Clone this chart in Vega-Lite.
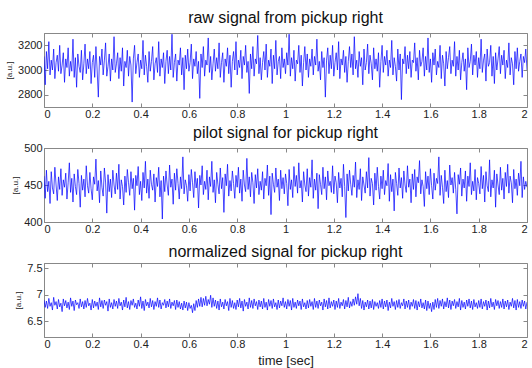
{
"$schema":"https://vega.github.io/schema/vega-lite/v6.json",
"background":"white",
"padding":{"left":5,"top":9,"right":1,"bottom":2},
"bounds":"flush",
"spacing":41,
"config":{"font":"Liberation Sans","view":{"stroke":"#888","strokeWidth":1},
"axis":{"grid":false,"domainColor":"#888","tickColor":"#888","tickSize":-4,"labelPadding":6,"labelFontSize":11,"labelColor":"#222","titleFontWeight":"normal","titleColor":"#222","labelFont":"Liberation Sans","titleFont":"Liberation Sans"},
"axisX":{"labelPadding":5},
"title":{"fontSize":16,"fontWeight":"normal","color":"#111","font":"Liberation Sans"}},
"datasets":{"d":[
{"t":0,"r":3110,"p":462,"n":6.90},{"t":0.005,"r":2880,"p":432,"n":6.76},{"t":0.01,"r":3150,"p":470,"n":6.88},{"t":0.015,"r":3010,"p":441,"n":6.74},{"t":0.02,"r":3230,"p":455,"n":6.93},{"t":0.025,"r":2960,"p":425,"n":6.78},{"t":0.03,"r":3080,"p":468,"n":6.85},{"t":0.035,"r":3000,"p":446,"n":6.71},{"t":0.04,"r":3170,"p":438,"n":6.95},{"t":0.045,"r":2930,"p":474,"n":6.80},{"t":0.05,"r":3060,"p":450,"n":6.87},{"t":0.055,"r":3120,"p":429,"n":6.73},{"t":0.06,"r":2990,"p":461,"n":6.91},{"t":0.065,"r":3200,"p":444,"n":6.77},{"t":0.07,"r":2970,"p":472,"n":6.84},{"t":0.075,"r":3040,"p":436,"n":6.68},{"t":0.08,"r":3140,"p":457,"n":6.92},{"t":0.085,"r":2900,"p":447,"n":6.79},{"t":0.09,"r":3090,"p":466,"n":6.89},{"t":0.095,"r":3020,"p":431,"n":6.75},
{"t":0.1,"r":3180,"p":453,"n":6.86},{"t":0.105,"r":2950,"p":480,"n":6.72},{"t":0.11,"r":3070,"p":440,"n":6.94},{"t":0.115,"r":2990,"p":459,"n":6.78},{"t":0.12,"r":3250,"p":427,"n":6.88},{"t":0.125,"r":2940,"p":465,"n":6.70},{"t":0.13,"r":3100,"p":448,"n":6.90},{"t":0.135,"r":2860,"p":437,"n":6.81},{"t":0.14,"r":3130,"p":471,"n":6.85},{"t":0.145,"r":3030,"p":452,"n":6.74},{"t":0.15,"r":2980,"p":420,"n":6.92},{"t":0.155,"r":3160,"p":463,"n":6.77},{"t":0.16,"r":2920,"p":443,"n":6.87},{"t":0.165,"r":3050,"p":458,"n":6.73},{"t":0.17,"r":3210,"p":434,"n":6.89},{"t":0.175,"r":2970,"p":476,"n":6.76},{"t":0.18,"r":3090,"p":449,"n":6.93},{"t":0.185,"r":3010,"p":439,"n":6.79},{"t":0.19,"r":3150,"p":467,"n":6.84},{"t":0.195,"r":2890,"p":445,"n":6.71},
{"t":0.2,"r":3060,"p":430,"n":6.91},{"t":0.205,"r":3120,"p":461,"n":6.75},{"t":0.21,"r":2940,"p":451,"n":6.88},{"t":0.215,"r":3190,"p":485,"n":6.78},{"t":0.22,"r":3000,"p":442,"n":6.86},{"t":0.225,"r":2780,"p":456,"n":6.72},{"t":0.23,"r":3110,"p":426,"n":6.94},{"t":0.235,"r":3040,"p":469,"n":6.77},{"t":0.24,"r":3170,"p":447,"n":6.89},{"t":0.245,"r":2960,"p":435,"n":6.74},{"t":0.25,"r":3080,"p":473,"n":6.90},{"t":0.255,"r":3220,"p":454,"n":6.80},{"t":0.26,"r":2950,"p":412,"n":6.87},{"t":0.265,"r":3030,"p":464,"n":6.69},{"t":0.27,"r":3130,"p":441,"n":6.92},{"t":0.275,"r":2910,"p":458,"n":6.76},{"t":0.28,"r":3090,"p":433,"n":6.85},{"t":0.285,"r":3000,"p":470,"n":6.73},{"t":0.29,"r":3270,"p":450,"n":6.91},{"t":0.295,"r":2980,"p":438,"n":6.78},
{"t":0.3,"r":3050,"p":466,"n":6.88},{"t":0.305,"r":3140,"p":444,"n":6.74},{"t":0.31,"r":2930,"p":478,"n":6.93},{"t":0.315,"r":3100,"p":431,"n":6.79},{"t":0.32,"r":2990,"p":457,"n":6.86},{"t":0.325,"r":3180,"p":448,"n":6.71},{"t":0.33,"r":2870,"p":423,"n":6.90},{"t":0.335,"r":3070,"p":462,"n":6.77},{"t":0.34,"r":3020,"p":440,"n":6.95},{"t":0.345,"r":3160,"p":471,"n":6.75},{"t":0.35,"r":2950,"p":453,"n":6.87},{"t":0.355,"r":3110,"p":436,"n":6.72},{"t":0.36,"r":3040,"p":468,"n":6.89},{"t":0.365,"r":2740,"p":445,"n":6.80},{"t":0.37,"r":3090,"p":459,"n":6.92},{"t":0.375,"r":3200,"p":416,"n":6.76},{"t":0.38,"r":2970,"p":463,"n":6.84},{"t":0.385,"r":3060,"p":449,"n":6.73},{"t":0.39,"r":3130,"p":475,"n":6.90},{"t":0.395,"r":2940,"p":437,"n":6.78},
{"t":0.4,"r":3080,"p":455,"n":6.96},{"t":0.405,"r":3010,"p":429,"n":6.74},{"t":0.41,"r":3240,"p":467,"n":6.88},{"t":0.415,"r":2960,"p":446,"n":6.70},{"t":0.42,"r":3120,"p":482,"n":6.91},{"t":0.425,"r":3030,"p":439,"n":6.79},{"t":0.43,"r":2900,"p":458,"n":6.86},{"t":0.435,"r":3150,"p":432,"n":6.75},{"t":0.44,"r":2990,"p":470,"n":6.93},{"t":0.445,"r":3070,"p":451,"n":6.77},{"t":0.45,"r":3190,"p":443,"n":6.89},{"t":0.455,"r":2920,"p":465,"n":6.72},{"t":0.46,"r":3050,"p":427,"n":6.87},{"t":0.465,"r":3100,"p":460,"n":6.78},{"t":0.47,"r":2980,"p":448,"n":6.94},{"t":0.475,"r":3230,"p":474,"n":6.76},{"t":0.48,"r":2950,"p":434,"n":6.90},{"t":0.485,"r":3090,"p":456,"n":6.73},{"t":0.49,"r":3020,"p":404,"n":6.85},{"t":0.495,"r":3140,"p":462,"n":6.80},
{"t":0.5,"r":2890,"p":441,"n":6.91},{"t":0.505,"r":3070,"p":469,"n":6.75},{"t":0.51,"r":3160,"p":450,"n":6.88},{"t":0.515,"r":2970,"p":436,"n":6.77},{"t":0.52,"r":3110,"p":477,"n":6.92},{"t":0.525,"r":3000,"p":447,"n":6.74},{"t":0.53,"r":3290,"p":458,"n":6.86},{"t":0.535,"r":2940,"p":424,"n":6.79},{"t":0.54,"r":3060,"p":466,"n":6.89},{"t":0.545,"r":3130,"p":443,"n":6.72},{"t":0.55,"r":2910,"p":472,"n":6.90},{"t":0.555,"r":3080,"p":452,"n":6.76},{"t":0.56,"r":3040,"p":431,"n":6.87},{"t":0.565,"r":3180,"p":461,"n":6.73},{"t":0.57,"r":2960,"p":445,"n":6.84},{"t":0.575,"r":3100,"p":488,"n":6.71},{"t":0.58,"r":2840,"p":438,"n":6.88},{"t":0.585,"r":3120,"p":457,"n":6.75},{"t":0.59,"r":3010,"p":449,"n":6.86},{"t":0.595,"r":3170,"p":428,"n":6.70},
{"t":0.6,"r":2990,"p":464,"n":6.85},{"t":0.605,"r":3060,"p":442,"n":6.74},{"t":0.61,"r":3210,"p":471,"n":6.80},{"t":0.615,"r":2930,"p":453,"n":6.66},{"t":0.62,"r":3090,"p":433,"n":6.83},{"t":0.625,"r":3030,"p":468,"n":6.70},{"t":0.63,"r":3150,"p":446,"n":6.89},{"t":0.635,"r":2970,"p":459,"n":6.76},{"t":0.64,"r":3070,"p":419,"n":6.92},{"t":0.645,"r":2770,"p":463,"n":6.78},{"t":0.65,"r":3130,"p":450,"n":6.95},{"t":0.655,"r":3020,"p":476,"n":6.77},{"t":0.66,"r":3190,"p":437,"n":6.93},{"t":0.665,"r":2950,"p":455,"n":6.80},{"t":0.67,"r":3080,"p":444,"n":6.97},{"t":0.675,"r":3040,"p":470,"n":6.79},{"t":0.68,"r":3260,"p":430,"n":6.91},{"t":0.685,"r":2980,"p":461,"n":6.82},{"t":0.69,"r":3110,"p":448,"n":6.99},{"t":0.695,"r":2920,"p":482,"n":6.76},
{"t":0.7,"r":3050,"p":440,"n":6.94},{"t":0.705,"r":3170,"p":457,"n":6.78},{"t":0.71,"r":2990,"p":426,"n":6.90},{"t":0.715,"r":3100,"p":467,"n":6.74},{"t":0.72,"r":3010,"p":451,"n":6.88},{"t":0.725,"r":3220,"p":438,"n":6.71},{"t":0.73,"r":2940,"p":473,"n":6.92},{"t":0.735,"r":3060,"p":445,"n":6.77},{"t":0.74,"r":3140,"p":460,"n":6.86},{"t":0.745,"r":2900,"p":413,"n":6.73},{"t":0.75,"r":3090,"p":465,"n":6.91},{"t":0.755,"r":3030,"p":449,"n":6.79},{"t":0.76,"r":3180,"p":478,"n":6.87},{"t":0.765,"r":2970,"p":435,"n":6.70},{"t":0.77,"r":3120,"p":456,"n":6.93},{"t":0.775,"r":2860,"p":442,"n":6.76},{"t":0.78,"r":3070,"p":469,"n":6.89},{"t":0.785,"r":3150,"p":452,"n":6.74},{"t":0.79,"r":3000,"p":432,"n":6.85},{"t":0.795,"r":3230,"p":463,"n":6.72},
{"t":0.8,"r":2960,"p":447,"n":6.90},{"t":0.805,"r":3080,"p":474,"n":6.77},{"t":0.81,"r":3020,"p":439,"n":6.93},{"t":0.815,"r":3160,"p":458,"n":6.75},{"t":0.82,"r":2930,"p":428,"n":6.88},{"t":0.825,"r":3110,"p":470,"n":6.69},{"t":0.83,"r":3040,"p":450,"n":6.91},{"t":0.835,"r":3200,"p":441,"n":6.78},{"t":0.84,"r":2980,"p":486,"n":6.86},{"t":0.845,"r":3070,"p":444,"n":6.73},{"t":0.85,"r":2810,"p":461,"n":6.94},{"t":0.855,"r":3130,"p":434,"n":6.76},{"t":0.86,"r":3010,"p":467,"n":6.89},{"t":0.865,"r":3190,"p":453,"n":6.74},{"t":0.87,"r":2950,"p":425,"n":6.92},{"t":0.875,"r":3090,"p":464,"n":6.79},{"t":0.88,"r":3050,"p":446,"n":6.87},{"t":0.885,"r":3280,"p":472,"n":6.72},{"t":0.89,"r":2970,"p":437,"n":6.90},{"t":0.895,"r":3100,"p":455,"n":6.77},
{"t":0.9,"r":2920,"p":443,"n":6.88},{"t":0.905,"r":3060,"p":468,"n":6.73},{"t":0.91,"r":3150,"p":431,"n":6.93},{"t":0.915,"r":3000,"p":459,"n":6.76},{"t":0.92,"r":3210,"p":449,"n":6.86},{"t":0.925,"r":2940,"p":477,"n":6.71},{"t":0.93,"r":3080,"p":436,"n":6.91},{"t":0.935,"r":3030,"p":462,"n":6.78},{"t":0.94,"r":3170,"p":410,"n":6.89},{"t":0.945,"r":2890,"p":466,"n":6.74},{"t":0.95,"r":3120,"p":451,"n":6.92},{"t":0.955,"r":3010,"p":440,"n":6.77},{"t":0.96,"r":3240,"p":473,"n":6.85},{"t":0.965,"r":2960,"p":447,"n":6.72},{"t":0.97,"r":3070,"p":458,"n":6.90},{"t":0.975,"r":3110,"p":429,"n":6.75},{"t":0.98,"r":2930,"p":470,"n":6.88},{"t":0.985,"r":3180,"p":445,"n":6.79},{"t":0.99,"r":3020,"p":460,"n":6.94},{"t":0.995,"r":3090,"p":438,"n":6.76},
{"t":1,"r":2970,"p":465,"n":6.87},{"t":1.005,"r":3140,"p":452,"n":6.73},{"t":1.01,"r":3040,"p":422,"n":6.91},{"t":1.015,"r":3290,"p":471,"n":6.78},{"t":1.02,"r":2950,"p":444,"n":6.89},{"t":1.025,"r":3100,"p":457,"n":6.71},{"t":1.03,"r":3010,"p":433,"n":6.93},{"t":1.035,"r":3160,"p":475,"n":6.76},{"t":1.04,"r":2910,"p":448,"n":6.86},{"t":1.045,"r":3080,"p":463,"n":6.74},{"t":1.05,"r":3050,"p":439,"n":6.90},{"t":1.055,"r":3200,"p":480,"n":6.79},{"t":1.06,"r":2980,"p":446,"n":6.88},{"t":1.065,"r":3120,"p":456,"n":6.72},{"t":1.07,"r":2870,"p":427,"n":6.92},{"t":1.075,"r":3060,"p":468,"n":6.77},{"t":1.08,"r":3190,"p":450,"n":6.85},{"t":1.085,"r":3000,"p":441,"n":6.73},{"t":1.09,"r":3130,"p":472,"n":6.89},{"t":1.095,"r":2940,"p":435,"n":6.75},
{"t":1.1,"r":3090,"p":460,"n":6.91},{"t":1.105,"r":3030,"p":447,"n":6.78},{"t":1.11,"r":3170,"p":484,"n":6.87},{"t":1.115,"r":2960,"p":432,"n":6.72},{"t":1.12,"r":3110,"p":458,"n":6.93},{"t":1.125,"r":3040,"p":443,"n":6.76},{"t":1.13,"r":3250,"p":466,"n":6.88},{"t":1.135,"r":2990,"p":418,"n":6.74},{"t":1.14,"r":3070,"p":464,"n":6.90},{"t":1.145,"r":2920,"p":451,"n":6.79},{"t":1.15,"r":3150,"p":437,"n":6.86},{"t":1.155,"r":3020,"p":474,"n":6.71},{"t":1.16,"r":3100,"p":445,"n":6.92},{"t":1.165,"r":2780,"p":461,"n":6.77},{"t":1.17,"r":3080,"p":430,"n":6.89},{"t":1.175,"r":3180,"p":469,"n":6.73},{"t":1.18,"r":2970,"p":449,"n":6.94},{"t":1.185,"r":3120,"p":455,"n":6.75},{"t":1.19,"r":3010,"p":440,"n":6.87},{"t":1.195,"r":3200,"p":476,"n":6.78},
{"t":1.2,"r":2950,"p":438,"n":6.90},{"t":1.205,"r":3060,"p":462,"n":6.72},{"t":1.21,"r":3140,"p":453,"n":6.88},{"t":1.215,"r":3000,"p":426,"n":6.76},{"t":1.22,"r":3230,"p":467,"n":6.93},{"t":1.225,"r":2930,"p":446,"n":6.74},{"t":1.23,"r":3090,"p":459,"n":6.86},{"t":1.235,"r":3040,"p":434,"n":6.79},{"t":1.24,"r":3160,"p":478,"n":6.91},{"t":1.245,"r":2980,"p":448,"n":6.73},{"t":1.25,"r":3110,"p":406,"n":6.89},{"t":1.255,"r":2900,"p":465,"n":6.77},{"t":1.26,"r":3070,"p":442,"n":6.95},{"t":1.265,"r":3190,"p":470,"n":6.75},{"t":1.27,"r":3020,"p":451,"n":6.87},{"t":1.275,"r":3130,"p":436,"n":6.78},{"t":1.28,"r":2960,"p":463,"n":6.92},{"t":1.285,"r":3270,"p":447,"n":6.80},{"t":1.29,"r":3010,"p":481,"n":6.96},{"t":1.295,"r":3080,"p":433,"n":6.82},
{"t":1.3,"r":2940,"p":457,"n":7.02},{"t":1.305,"r":3150,"p":444,"n":6.79},{"t":1.31,"r":3030,"p":472,"n":6.93},{"t":1.315,"r":3100,"p":429,"n":6.74},{"t":1.32,"r":2880,"p":461,"n":6.89},{"t":1.325,"r":3170,"p":450,"n":6.71},{"t":1.33,"r":3000,"p":439,"n":6.86},{"t":1.335,"r":3060,"p":468,"n":6.77},{"t":1.34,"r":3210,"p":446,"n":6.90},{"t":1.345,"r":2970,"p":487,"n":6.73},{"t":1.35,"r":3120,"p":435,"n":6.88},{"t":1.355,"r":3050,"p":459,"n":6.75},{"t":1.36,"r":2920,"p":452,"n":6.91},{"t":1.365,"r":3180,"p":423,"n":6.72},{"t":1.37,"r":3010,"p":466,"n":6.87},{"t":1.375,"r":3090,"p":443,"n":6.78},{"t":1.38,"r":2990,"p":474,"n":6.85},{"t":1.385,"r":3140,"p":448,"n":6.74},{"t":1.39,"r":2860,"p":431,"n":6.89},{"t":1.395,"r":3070,"p":462,"n":6.76},
{"t":1.4,"r":3200,"p":445,"n":6.92},{"t":1.405,"r":2980,"p":470,"n":6.73},{"t":1.41,"r":3110,"p":437,"n":6.88},{"t":1.415,"r":3040,"p":456,"n":6.77},{"t":1.42,"r":3160,"p":449,"n":6.90},{"t":1.425,"r":2950,"p":479,"n":6.70},{"t":1.43,"r":3080,"p":428,"n":6.86},{"t":1.435,"r":3020,"p":464,"n":6.75},{"t":1.44,"r":3240,"p":441,"n":6.93},{"t":1.445,"r":2960,"p":458,"n":6.78},{"t":1.45,"r":3100,"p":415,"n":6.87},{"t":1.455,"r":3030,"p":467,"n":6.72},{"t":1.46,"r":2910,"p":452,"n":6.89},{"t":1.465,"r":3170,"p":436,"n":6.76},{"t":1.47,"r":3000,"p":473,"n":6.91},{"t":1.475,"r":3130,"p":446,"n":6.74},{"t":1.48,"r":2760,"p":460,"n":6.85},{"t":1.485,"r":3090,"p":432,"n":6.79},{"t":1.49,"r":3050,"p":469,"n":6.92},{"t":1.495,"r":3190,"p":450,"n":6.73},
{"t":1.5,"r":2970,"p":440,"n":6.88},{"t":1.505,"r":3120,"p":476,"n":6.76},{"t":1.51,"r":3010,"p":447,"n":6.90},{"t":1.515,"r":3150,"p":458,"n":6.72},{"t":1.52,"r":2940,"p":426,"n":6.86},{"t":1.525,"r":3080,"p":465,"n":6.78},{"t":1.53,"r":3060,"p":444,"n":6.91},{"t":1.535,"r":3220,"p":471,"n":6.74},{"t":1.54,"r":2990,"p":434,"n":6.89},{"t":1.545,"r":3100,"p":461,"n":6.71},{"t":1.55,"r":2920,"p":453,"n":6.87},{"t":1.555,"r":3160,"p":483,"n":6.77},{"t":1.56,"r":3030,"p":438,"n":6.92},{"t":1.565,"r":3070,"p":457,"n":6.75},{"t":1.57,"r":3180,"p":448,"n":6.85},{"t":1.575,"r":2950,"p":421,"n":6.73},{"t":1.58,"r":3110,"p":468,"n":6.90},{"t":1.585,"r":3000,"p":445,"n":6.70},{"t":1.59,"r":3260,"p":462,"n":6.88},{"t":1.595,"r":2980,"p":437,"n":6.74},
{"t":1.6,"r":3090,"p":472,"n":6.84},{"t":1.605,"r":2900,"p":449,"n":6.68},{"t":1.61,"r":3140,"p":431,"n":6.86},{"t":1.615,"r":3040,"p":466,"n":6.72},{"t":1.62,"r":3170,"p":443,"n":6.91},{"t":1.625,"r":2960,"p":459,"n":6.76},{"t":1.63,"r":3070,"p":452,"n":6.93},{"t":1.635,"r":3020,"p":488,"n":6.74},{"t":1.64,"r":3200,"p":436,"n":6.89},{"t":1.645,"r":2930,"p":463,"n":6.78},{"t":1.65,"r":3120,"p":447,"n":6.92},{"t":1.655,"r":3050,"p":425,"n":6.73},{"t":1.66,"r":2870,"p":470,"n":6.87},{"t":1.665,"r":3150,"p":441,"n":6.77},{"t":1.67,"r":3010,"p":456,"n":6.94},{"t":1.675,"r":3100,"p":433,"n":6.75},{"t":1.68,"r":3190,"p":477,"n":6.90},{"t":1.685,"r":2970,"p":450,"n":6.72},{"t":1.69,"r":3080,"p":460,"n":6.88},{"t":1.695,"r":3030,"p":439,"n":6.79},
{"t":1.7,"r":3230,"p":467,"n":6.91},{"t":1.705,"r":2950,"p":444,"n":6.74},{"t":1.71,"r":3110,"p":411,"n":6.87},{"t":1.715,"r":3000,"p":464,"n":6.77},{"t":1.72,"r":3160,"p":451,"n":6.93},{"t":1.725,"r":2920,"p":473,"n":6.71},{"t":1.73,"r":3060,"p":435,"n":6.89},{"t":1.735,"r":3140,"p":458,"n":6.76},{"t":1.74,"r":2990,"p":446,"n":6.86},{"t":1.745,"r":3090,"p":469,"n":6.73},{"t":1.75,"r":2840,"p":428,"n":6.90},{"t":1.755,"r":3180,"p":462,"n":6.78},{"t":1.76,"r":3020,"p":448,"n":6.92},{"t":1.765,"r":3070,"p":480,"n":6.75},{"t":1.77,"r":3210,"p":437,"n":6.88},{"t":1.775,"r":2960,"p":455,"n":6.72},{"t":1.78,"r":3120,"p":442,"n":6.91},{"t":1.785,"r":3040,"p":471,"n":6.77},{"t":1.79,"r":3150,"p":430,"n":6.85},{"t":1.795,"r":2940,"p":460,"n":6.74},
{"t":1.8,"r":3100,"p":452,"n":6.89},{"t":1.805,"r":3010,"p":438,"n":6.76},{"t":1.81,"r":3250,"p":475,"n":6.92},{"t":1.815,"r":2980,"p":445,"n":6.73},{"t":1.82,"r":3080,"p":463,"n":6.87},{"t":1.825,"r":3130,"p":427,"n":6.78},{"t":1.83,"r":2910,"p":468,"n":6.90},{"t":1.835,"r":3170,"p":449,"n":6.71},{"t":1.84,"r":3030,"p":441,"n":6.88},{"t":1.845,"r":3060,"p":484,"n":6.75},{"t":1.85,"r":3200,"p":434,"n":6.93},{"t":1.855,"r":2950,"p":457,"n":6.77},{"t":1.86,"r":3110,"p":446,"n":6.86},{"t":1.865,"r":2890,"p":470,"n":6.72},{"t":1.87,"r":3140,"p":420,"n":6.91},{"t":1.875,"r":3000,"p":465,"n":6.79},{"t":1.88,"r":3090,"p":450,"n":6.89},{"t":1.885,"r":3190,"p":437,"n":6.74},{"t":1.89,"r":2970,"p":474,"n":6.87},{"t":1.895,"r":3120,"p":443,"n":6.76},
{"t":1.9,"r":3040,"p":459,"n":6.92},{"t":1.905,"r":3160,"p":431,"n":6.73},{"t":1.91,"r":2930,"p":467,"n":6.88},{"t":1.915,"r":3080,"p":448,"n":6.77},{"t":1.92,"r":3020,"p":478,"n":6.90},{"t":1.925,"r":3220,"p":439,"n":6.72},{"t":1.93,"r":2960,"p":462,"n":6.86},{"t":1.935,"r":3100,"p":453,"n":6.78},{"t":1.94,"r":3050,"p":426,"n":6.93},{"t":1.945,"r":2880,"p":471,"n":6.75},{"t":1.95,"r":3150,"p":445,"n":6.89},{"t":1.955,"r":3010,"p":458,"n":6.71},{"t":1.96,"r":3180,"p":436,"n":6.91},{"t":1.965,"r":2990,"p":466,"n":6.76},{"t":1.97,"r":3070,"p":449,"n":6.87},{"t":1.975,"r":3130,"p":482,"n":6.74},{"t":1.98,"r":2940,"p":433,"n":6.90},{"t":1.985,"r":3110,"p":461,"n":6.78},{"t":1.99,"r":3060,"p":444,"n":6.88},{"t":1.995,"r":3170,"p":455,"n":6.73},
{"t":2,"r":3000,"p":447,"n":6.86}
]},
"data":{"name":"d"},
"vconcat":[
{"width":483,"height":74,"title":{"text":"raw signal from pickup right","offset":6.5},
"layer":[
{"mark":{"type":"line","color":"#0000ff","strokeWidth":0.7,"clip":true},
"encoding":{"x":{"field":"t","type":"quantitative","scale":{"domain":[0,2],"nice":false},"axis":{"values":[0,0.2,0.4,0.6,0.8,1,1.2,1.4,1.6,1.8,2],"format":"~g","title":null}},
"y":{"field":"r","type":"quantitative","scale":{"domain":[2700,3300],"nice":false,"zero":false},"axis":{"values":[2800,3000,3200],"format":"d","title":"[a.u.]","titleFontSize":8}}}},
{"mark":{"type":"line","opacity":0},
"encoding":{"x":{"field":"t","type":"quantitative","axis":{"orient":"top","values":[0,0.2,0.4,0.6,0.8,1,1.2,1.4,1.6,1.8,2],"labels":false,"title":null,"domain":false}},
"y":{"field":"r","type":"quantitative","axis":{"orient":"right","values":[2800,3000,3200],"labels":false,"title":null,"domain":false}}}}
],
"resolve":{"axis":{"x":"independent","y":"independent"}}},
{"width":483,"height":74,"title":{"text":"pilot signal for pickup right","offset":1},
"layer":[
{"mark":{"type":"line","color":"#0000ff","strokeWidth":0.7,"clip":true},
"encoding":{"x":{"field":"t","type":"quantitative","scale":{"domain":[0,2],"nice":false},"axis":{"values":[0,0.2,0.4,0.6,0.8,1,1.2,1.4,1.6,1.8,2],"format":"~g","title":null}},
"y":{"field":"p","type":"quantitative","scale":{"domain":[400,500],"nice":false,"zero":false},"axis":{"values":[400,450,500],"format":"d","title":"[a.u.]","titleFontSize":8}}}},
{"mark":{"type":"line","opacity":0},
"encoding":{"x":{"field":"t","type":"quantitative","axis":{"orient":"top","values":[0,0.2,0.4,0.6,0.8,1,1.2,1.4,1.6,1.8,2],"labels":false,"title":null,"domain":false}},
"y":{"field":"p","type":"quantitative","axis":{"orient":"right","values":[400,450,500],"labels":false,"title":null,"domain":false}}}}
],
"resolve":{"axis":{"x":"independent","y":"independent"}}},
{"width":483,"height":74,"title":{"text":"normalized signal for pickup right","offset":2.5},
"layer":[
{"mark":{"type":"line","color":"#0000ff","strokeWidth":0.7,"clip":true},
"encoding":{"x":{"field":"t","type":"quantitative","scale":{"domain":[0,2],"nice":false},"axis":{"values":[0,0.2,0.4,0.6,0.8,1,1.2,1.4,1.6,1.8,2],"format":"~g","title":"time [sec]","titleFontSize":13,"titlePadding":5}},
"y":{"field":"n","type":"quantitative","scale":{"domain":[6.2,7.6],"nice":false,"zero":false},"axis":{"values":[6.5,7,7.5],"format":"~g","title":"[a.u.]","titleFontSize":8}}}},
{"mark":{"type":"line","opacity":0},
"encoding":{"x":{"field":"t","type":"quantitative","axis":{"orient":"top","values":[0,0.2,0.4,0.6,0.8,1,1.2,1.4,1.6,1.8,2],"labels":false,"title":null,"domain":false}},
"y":{"field":"n","type":"quantitative","axis":{"orient":"right","values":[6.5,7,7.5],"labels":false,"title":null,"domain":false}}}}
],
"resolve":{"axis":{"x":"independent","y":"independent"}}}
]
}
